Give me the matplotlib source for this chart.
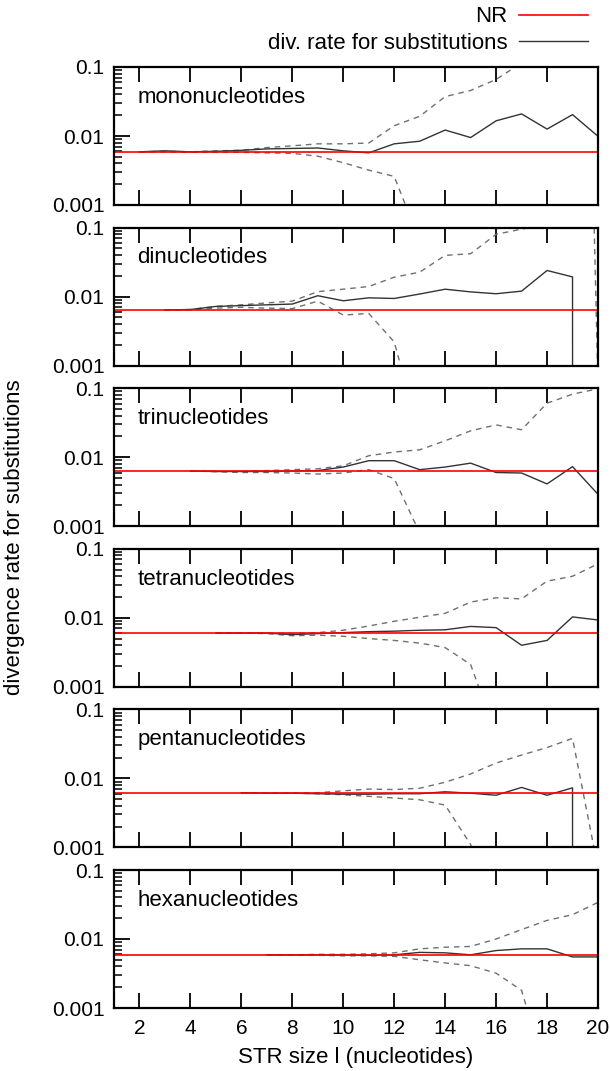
import numpy as np
import matplotlib
matplotlib.use("Agg")
import matplotlib.pyplot as plt
from matplotlib.ticker import LogLocator, NullFormatter, FixedLocator

plt.rcParams['font.family'] = ['Liberation Sans', 'DejaVu Sans']

# ---------------------------------------------------------------------
# data (x = STR size l, y = divergence rate)
# ---------------------------------------------------------------------
panel_names = ['mononucleotides', 'dinucleotides', 'trinucleotides',
               'tetranucleotides', 'pentanucleotides', 'hexanucleotides']
start_size = [2, 3, 4, 5, 6, 7]
nr_rate = [0.0059, 0.0064, 0.0063, 0.0060, 0.0061, 0.0059]

mono_rate = [0.0059, 0.0061, 0.0059, 0.0060, 0.0062, 0.0065, 0.0066, 0.0067,
             0.0061, 0.0057, 0.0077, 0.0084, 0.0122, 0.0095, 0.0166, 0.0209,
             0.0126, 0.0204, 0.0099]
mono_hi = [0.0059, 0.0060, 0.0059, 0.0061, 0.0062, 0.0068, 0.0072, 0.0077,
           0.0077, 0.0079, 0.0141, 0.0193, 0.0372, 0.0457, 0.066, 0.115,
           0.2, 0.3, 0.4]
mono_lo = [0.0059, 0.0059, 0.0058, 0.0058, 0.0058, 0.0057, 0.0056, 0.0051,
           0.0041, 0.0032, 0.0026, 0.0003, 0.0001, 0.0001, 0.0001, 0.0001,
           0.0001, 0.0001, 0.0001]

di_rate = [0.0064, 0.0065, 0.0072, 0.0074, 0.0076, 0.0078, 0.0103, 0.0087,
           0.0096, 0.0094, 0.0109, 0.0128, 0.0117, 0.0110, 0.0120, 0.0239,
           0.0193, 0.0]
di_hi = [0.0064, 0.0065, 0.0072, 0.0076, 0.0081, 0.0086, 0.0118, 0.0128,
         0.0140, 0.0191, 0.0226, 0.0396, 0.0418, 0.080, 0.095, 0.11,
         1e12, 0.0005]
di_lo = [0.0064, 0.0064, 0.0068, 0.0070, 0.0068, 0.0067, 0.0086, 0.0054,
         0.0057, 0.0022, 0.0001, 0.0001, 0.0001, 0.0001, 0.0001, 0.0001,
         0.0001, 0.0001]

tri_rate = [0.0063, 0.0062, 0.0062, 0.0062, 0.0063, 0.0064, 0.0072, 0.0089,
            0.0089, 0.0066, 0.0072, 0.0082, 0.0060, 0.0059, 0.0041, 0.0073,
            0.0029]
tri_hi = [0.0063, 0.0062, 0.0062, 0.0064, 0.0066, 0.0068, 0.0075, 0.0105,
          0.0119, 0.0128, 0.0173, 0.0241, 0.0294, 0.0250, 0.0606, 0.082,
          0.098]
tri_lo = [0.0063, 0.0062, 0.0060, 0.0060, 0.0059, 0.0057, 0.0059, 0.0066,
          0.0049, 0.0008, 0.0001, 0.0001, 0.0001, 0.0001, 0.0001, 0.0001,
          0.0001]

tetra_rate = [0.0060, 0.0060, 0.0060, 0.0057, 0.0059, 0.0061, 0.0063,
              0.0064, 0.0066, 0.0067, 0.0075, 0.0072, 0.0040, 0.0047,
              0.0103, 0.0093]
tetra_hi = [0.0060, 0.0060, 0.0060, 0.0059, 0.0061, 0.0066, 0.0076,
            0.0089, 0.0102, 0.0116, 0.0169, 0.0195, 0.0188, 0.034,
            0.040, 0.0606]
tetra_lo = [0.0060, 0.0060, 0.0059, 0.0055, 0.0056, 0.0054, 0.0050,
            0.0047, 0.0043, 0.0037, 0.0021, 0.0002, 0.0001, 0.0001,
            0.0001, 0.0001]

penta_rate = [0.0062, 0.0061, 0.0061, 0.0060, 0.0059, 0.0059, 0.0060,
              0.0060, 0.0064, 0.0061, 0.0057, 0.0074, 0.0057, 0.0073, 0.0]
penta_hi = [0.0062, 0.0061, 0.0061, 0.0062, 0.0066, 0.0070, 0.0069,
            0.0072, 0.0088, 0.0116, 0.0167, 0.0218, 0.028, 0.038, 0.0005]
penta_lo = [0.0062, 0.0061, 0.0061, 0.0060, 0.0058, 0.0055, 0.0052,
            0.0049, 0.0041, 0.0011, 0.0001, 0.0001, 0.0001, 0.0001, 0.0001]

hexa_rate = [0.0059, 0.0059, 0.0059, 0.0059, 0.0058, 0.0059, 0.0064,
             0.0063, 0.0059, 0.0068, 0.0072, 0.0072, 0.0055, 0.0055]
hexa_hi = [0.0059, 0.0059, 0.0060, 0.0060, 0.0061, 0.0063, 0.0072,
           0.0076, 0.0078, 0.0100, 0.0137, 0.0186, 0.0225, 0.034]
hexa_lo = [0.0059, 0.0058, 0.0058, 0.0057, 0.0057, 0.0056, 0.0050,
           0.0045, 0.0041, 0.0032, 0.0018, 0.0001, 0.0001, 0.0001]

rates = [mono_rate, di_rate, tri_rate, tetra_rate, penta_rate, hexa_rate]
highs = [mono_hi, di_hi, tri_hi, tetra_hi, penta_hi, hexa_hi]
lows = [mono_lo, di_lo, tri_lo, tetra_lo, penta_lo, hexa_lo]

x_ticks = [2, 4, 6, 8, 10, 12, 14, 16, 18, 20]

# ---------------------------------------------------------------------
W, H = 610, 1071
fig = plt.figure(figsize=(W / 100, H / 100), dpi=100)

left_px, width_px = 114, 484
top0_px, step_px, height_px = 67, 160.6, 138

dash = (0, (4, 3.5))
axes = []
for i, name in enumerate(panel_names):
    top = top0_px + i * step_px
    ax = fig.add_axes([left_px / W, 1 - (top + height_px) / H,
                       width_px / W, height_px / H])
    axes.append(ax)
    x = np.arange(start_size[i], start_size[i] + len(rates[i]))

    ax.set_yscale('log')
    ax.plot(x, highs[i], color='#707070', lw=1.0, linestyle=dash)
    ax.plot(x, lows[i], color='#707070', lw=1.0, linestyle=dash)
    ax.plot(x, rates[i], color='#333333', lw=1.0,
            label='div. rate for substitutions')
    ax.axhline(nr_rate[i], color='#ff0000', lw=1.2, label='NR')

    ax.set_xlim(1, 20)
    ax.set_ylim(0.001, 0.1)

    for s in ax.spines.values():
        s.set_linewidth(1.6)

    ax.xaxis.set_major_locator(FixedLocator(x_ticks))
    ax.tick_params(axis='x', which='major', direction='in', length=10.5,
                   width=1.3, top=True, bottom=True, labelsize=15, pad=8)
    if i < len(panel_names) - 1:
        ax.tick_params(axis='x', labelbottom=False)

    ax.yaxis.set_major_locator(FixedLocator([0.001, 0.01, 0.1]))
    ax.yaxis.set_major_formatter(plt.FuncFormatter(
        lambda v, p: {0.001: '0.001', 0.01: '0.01', 0.1: '0.1'}.get(round(v, 3), '')))
    ax.yaxis.set_minor_locator(LogLocator(base=10, subs=np.arange(2, 10)))
    ax.yaxis.set_minor_formatter(NullFormatter())
    ax.tick_params(axis='y', which='major', direction='in', length=11.5,
                   width=1.3, left=True, right=False, labelsize=15, pad=7)
    ax.tick_params(axis='y', which='minor', direction='in', length=5.8,
                   width=1.1, left=True, right=False)

    ax.text(0.048, 0.78, name, transform=ax.transAxes, fontsize=16,
            ha='left', va='center')

fig.text(15 / W, 1 - 537 / H, 'divergence rate for substitutions',
         rotation=90, ha='center', va='center', fontsize=16)
fig.text((left_px + width_px / 2) / W, 1 - 1057 / H,
         'STR size l (nucleotides)', ha='center', va='center', fontsize=16)

handles, labels = axes[0].get_legend_handles_labels()
order = [labels.index('NR'), labels.index('div. rate for substitutions')]
fig.legend([handles[k] for k in order], [labels[k] for k in order],
           loc='upper right', bbox_to_anchor=(592 / W, 1 - 2 / H),
           frameon=False, markerfirst=False, fontsize=16,
           handlelength=3.1, handletextpad=0.5, labelspacing=0.25,
           borderpad=0.2, borderaxespad=0)

fig.savefig('out.png', dpi=100)
